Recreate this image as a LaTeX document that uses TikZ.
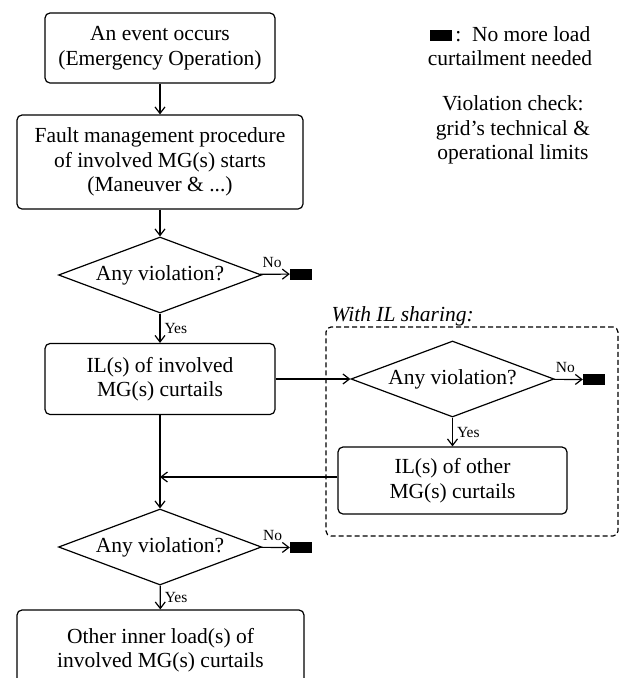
\documentclass[tikz,border=0pt]{standalone}
\usepackage{fontspec}
\setmainfont{Liberation Serif}
\usetikzlibrary{shapes.geometric,arrows.meta}
\begin{document}
\begin{tikzpicture}[x=1pt,y=-1pt,
  every node/.style={font=\fontsize{21.5}{24.5}\selectfont},
  box/.style={draw, rounded corners=5pt, line width=1.2pt, align=center, inner sep=0pt},
  dec/.style={draw, diamond, aspect=2.67, line width=1.2pt, inner sep=0pt, minimum width=203pt, minimum height=76pt},
  stopbox/.style={fill=black, inner sep=0pt, minimum width=22pt, minimum height=11pt},
  grpbox/.style={draw, dash pattern=on 5pt off 3pt, rounded corners=5pt, line width=1.2pt, inner sep=0pt},
  lbl/.style={font=\fontsize{15.5}{17}\selectfont, inner sep=0pt},
  flow/.style={line width=1.2pt, -{Straight Barb[length=6.5pt,width=10pt]}},
]
\clip (0,0) rectangle (619,678);

% legend
\node[align=center, inner sep=0pt] (leg1) at (510,46) {\rule{22pt}{11pt}\,:\ \ No more load\\curtailment needed};
\node[align=center, inner sep=0pt] (leg2) at (513,130) {Violation check:\\grid’s technical \&\\operational limits};

% main column
\node[box, minimum width=230pt, minimum height=70pt] (b1) at (160,48) {An event occurs\\(Emergency Operation)};
\node[box, minimum width=286pt, minimum height=94pt] (b2) at (160,162) {Fault management procedure\\of involved MG(s) starts\\(Maneuver \& ...)};
\node[dec] (d1) at (160,275) {Any violation?};
\node[stopbox] (s1) at (301,274) {};
\node[box, minimum width=230pt, minimum height=71pt] (b3) at (160,379) {IL(s) of involved\\MG(s) curtails};

% IL sharing group
\node[grpbox, minimum width=292pt, minimum height=209pt] (grp) at (472,431.5) {};
\node[anchor=base west, inner sep=0pt, font=\fontsize{21.5}{24.5}\selectfont\itshape] (grpt) at ([xshift=6pt,yshift=5pt]grp.north west) {With IL sharing:};
\node[dec] (d2) at (452.5,379) {Any violation?};
\node[stopbox] (s2) at (594,379.5) {};
\node[box, minimum width=229pt, minimum height=67pt] (b4) at (452.5,480.5) {IL(s) of other\\MG(s) curtails};

\node[dec] (d3) at (160,547) {Any violation?};
\node[stopbox] (s3) at (301,547.5) {};
\node[box, minimum width=287pt, minimum height=80pt] (b5) at (160.5,650) {Other inner load(s) of\\involved MG(s) curtails};

% connectors
\draw[flow] (b1) -- (b2);
\draw[flow] (b2) -- (d1);
\draw[flow] (d1) -- node[lbl, anchor=south, pos=0.4, yshift=6pt] {No} (s1);
\draw[flow] (d1) -- node[lbl, anchor=west, xshift=4pt] {Yes} (b3);
\draw[flow] (b3) -- (d2);
\draw[flow] (d2) -- node[lbl, anchor=south, pos=0.4, yshift=6pt] {No} (s2);
\draw[flow] (d2) -- node[lbl, anchor=west, xshift=4pt] {Yes} (b4);
\draw[flow] (b3) -- (d3);
\path ([yshift=3.5pt]b4.west) coordinate (b4o);
\coordinate (mj) at (b3.south |- b4o);
\draw[flow] (b4o) -- (mj);
\draw[flow] (d3) -- node[lbl, anchor=south, pos=0.4, yshift=6pt] {No} (s3);
\draw[flow] (d3) -- node[lbl, anchor=west, xshift=4pt] {Yes} (b5);
\end{tikzpicture}
\end{document}
